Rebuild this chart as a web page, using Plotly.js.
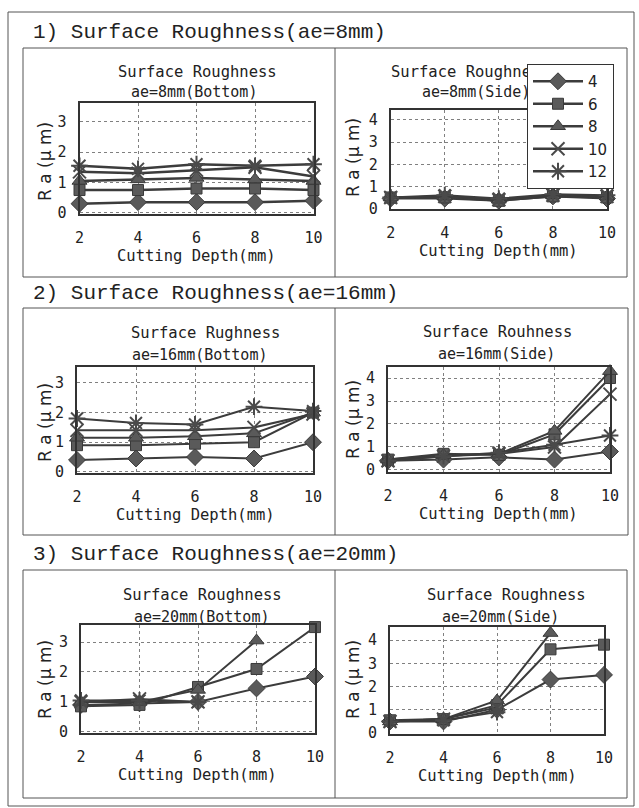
<!DOCTYPE html>
<html>
<head>
<meta charset="utf-8">
<script src="https://cdn.plot.ly/plotly-3.0.1.min.js"></script>
<style>html,body{margin:0;padding:0;background:#fff;}#chart{width:639px;height:808px;}</style>
</head>
<body>
<div id="chart"></div>
<script>
// ---------- data ----------
const depth = [2, 4, 6, 8, 10];                 // Cutting Depth (mm)
const seriesNames = ['4', '6', '8', '10', '12'];  // legend labels

// 1) ae = 8 mm, Bottom
const ae8Bottom_4  = [0.3, 0.35, 0.35, 0.35, 0.4];
const ae8Bottom_6  = [0.75, 0.75, 0.8, 0.8, 0.75];
const ae8Bottom_8  = [1.05, 1.1, 1.15, 1.1, 1.05];
const ae8Bottom_10 = [1.35, 1.3, 1.4, 1.5, 1.2];
const ae8Bottom_12 = [1.55, 1.45, 1.6, 1.55, 1.6];
// 1) ae = 8 mm, Side
const ae8Side_4  = [0.45, 0.45, 0.35, 0.55, 0.45];
const ae8Side_6  = [0.5, 0.5, 0.35, 0.55, 0.5];
const ae8Side_8  = [0.5, 0.55, 0.4, 0.6, 0.55];
const ae8Side_10 = [0.5, 0.55, 0.4, 0.6, 0.55];
const ae8Side_12 = [0.5, 0.6, 0.45, 0.65, 0.6];
// 2) ae = 16 mm, Bottom
const ae16Bottom_4  = [0.4, 0.45, 0.5, 0.45, 1.0];
const ae16Bottom_6  = [0.9, 0.9, 0.95, 1.0, 2.0];
const ae16Bottom_8  = [1.15, 1.15, 1.2, 1.3, 2.0];
const ae16Bottom_10 = [1.4, 1.4, 1.4, 1.5, 1.95];
const ae16Bottom_12 = [1.8, 1.65, 1.6, 2.2, 2.05];
// 2) ae = 16 mm, Side
const ae16Side_4  = [0.4, 0.45, 0.55, 0.45, 0.8];
const ae16Side_6  = [0.45, 0.7, 0.65, 1.55, 4.0];
const ae16Side_8  = [0.45, 0.65, 0.7, 1.7, 4.3];
const ae16Side_10 = [0.4, 0.6, 0.7, 1.0, 3.3];
const ae16Side_12 = [0.4, 0.6, 0.75, 1.1, 1.5];
// 3) ae = 20 mm, Bottom
const ae20Bottom_4  = [0.9, 0.95, 1.0, 1.45, 1.85];
const ae20Bottom_6  = [0.85, 0.9, 1.5, 2.1, 3.5];
const ae20Bottom_8  = [1.0, 1.0, 1.4, 3.05, null];
const ae20Bottom_10 = [1.0, 1.1, 1.0, null, null];
const ae20Bottom_12 = [1.05, 1.05, 1.0, null, null];
// 3) ae = 20 mm, Side
const ae20Side_4  = [0.5, 0.5, 1.0, 2.3, 2.5];
const ae20Side_6  = [0.55, 0.6, 1.2, 3.6, 3.8];
const ae20Side_8  = [0.5, 0.6, 1.4, 4.3, null];
const ae20Side_10 = [0.5, 0.6, 1.1, null, null];
const ae20Side_12 = [0.5, 0.55, 0.9, null, null];

const xTickVals = [2, 4, 6, 8, 10];
const sectionTitles = ['1) Surface Roughness(ae=8mm)', '2) Surface Roughness(ae=16mm)', '3) Surface Roughness(ae=20mm)'];
const panelTitles = [
  ['Surface Roughness', 'ae=8mm(Bottom)'],
  ['Surface Roughness', 'ae=8mm(Side)'],
  ['Surface Rughness', 'ae=16mm(Bottom)'],
  ['Surface Rouhness', 'ae=16mm(Side)'],
  ['Surface Roughness', 'ae=20mm(Bottom)'],
  ['Surface Roughness', 'ae=20mm(Side)']
];
const xTitle = 'Cutting Depth(mm)';
const yTitle = 'R a (μ m)';

const panelData = [
  [ae8Bottom_4, ae8Bottom_6, ae8Bottom_8, ae8Bottom_10, ae8Bottom_12],
  [ae8Side_4, ae8Side_6, ae8Side_8, ae8Side_10, ae8Side_12],
  [ae16Bottom_4, ae16Bottom_6, ae16Bottom_8, ae16Bottom_10, ae16Bottom_12],
  [ae16Side_4, ae16Side_6, ae16Side_8, ae16Side_10, ae16Side_12],
  [ae20Bottom_4, ae20Bottom_6, ae20Bottom_8, ae20Bottom_10, ae20Bottom_12],
  [ae20Side_4, ae20Side_6, ae20Side_8, ae20Side_10, ae20Side_12]
];

// ---------- layout geometry (pixels) ----------
const W = 639, H = 808;
const px = v => v / W;
const py = v => 1 - v / H;

const panels = [
  {x0: 79.5, x1: 313.5, y0: 103, y1: 214, yr: [-0.04, 3.62], yt: [0,1,2,3],   t1: [197, 72], t2: [194, 92], yl: [45, 162]},
  {x0: 390.7, x1: 607, y0: 110, y1: 209, yr: [-0.02, 4.45], yt: [0,1,2,3,4], t1: [470, 72], t2: [476, 92], yl: [353, 158]},
  {x0: 77, x1: 313, y0: 367, y1: 473, yr: [-0.04, 3.54], yt: [0,1,2,3],   t1: [205, 333], t2: [199, 355], yl: [45, 423]},
  {x0: 388, x1: 610, y0: 367, y1: 472, yr: [-0.09, 4.48], yt: [0,1,2,3,4], t1: [497, 332], t2: [496, 354], yl: [353, 420]},
  {x0: 81, x1: 315, y0: 625, y1: 733, yr: [-0.04, 3.57], yt: [0,1,2,3],   t1: [202, 595], t2: [201, 617], yl: [45, 680]},
  {x0: 390, x1: 604, y0: 627, y1: 734, yr: [-0.04, 4.56], yt: [0,1,2,3,4], t1: [506, 595], t2: [500, 617], yl: [353, 680]}
];

const symbols = ['diamond', 'square', 'triangle-up', 'x-thin-open', 'asterisk-open'];
const sizes = [13, 11, 13, 13, 14];

const traces = [];
panelData.forEach((set, p) => {
  const sfx = p === 0 ? '' : String(p + 1);
  set.forEach((vals, s) => {
    const open = symbols[s].indexOf('open') >= 0;
    traces.push({
      type: 'scatter', mode: 'lines+markers',
      x: depth, y: vals,
      xaxis: 'x' + sfx, yaxis: 'y' + sfx,
      name: seriesNames[s], legendgroup: seriesNames[s],
      showlegend: p === 0,
      cliponaxis: false,
      connectgaps: false,
      line: {color: '#3c3c3c', width: p === 0 ? 2.5 : 2},
      marker: {
        symbol: symbols[s], size: sizes[s],
        color: open ? '#4a4a4a' : '#5a5a5a',
        line: {color: open ? '#4a4a4a' : '#3a3a3a', width: open ? 2 : 1}
      }
    });
  });
});

const layout = {
  width: W, height: H,
  margin: {l: 0, r: 0, t: 0, b: 0},
  paper_bgcolor: '#fff', plot_bgcolor: '#fff',
  showlegend: true,
  legend: {
    x: px(527), y: py(64), xanchor: 'left', yanchor: 'top',
    bgcolor: '#fff', bordercolor: '#333', borderwidth: 1,
    font: {family: 'DejaVu Sans', size: 15, color: '#222'},
    tracegroupgap: 0, itemsizing: 'trace', itemwidth: 50
  },
  annotations: [], shapes: []
};

const fontMono = 'DejaVu Sans Mono';
panels.forEach((g, p) => {
  const sfx = p === 0 ? '' : String(p + 1);
  layout['xaxis' + sfx] = {
    domain: [px(g.x0), px(g.x1)], anchor: 'y' + sfx,
    range: [2, 10], tickvals: xTickVals, ticks: '',
    showgrid: true, gridcolor: '#808080', griddash: 'dot', gridwidth: 1,
    showline: true, mirror: true, linecolor: '#333', linewidth: 2,
    zeroline: false, ticklabelstandoff: 9,
    tickfont: {family: fontMono, size: 15, color: '#222'}
  };
  layout['yaxis' + sfx] = {
    domain: [py(g.y1), py(g.y0)], anchor: 'x' + sfx,
    range: g.yr, tickvals: g.yt, ticks: '',
    showgrid: true, gridcolor: '#808080', griddash: 'dot', gridwidth: 1,
    showline: true, mirror: true, linecolor: '#333', linewidth: 2,
    zeroline: false, ticklabelstandoff: 8,
    tickfont: {family: fontMono, size: 15, color: '#222'}
  };
  const xc = (g.x0 + g.x1) / 2;
  layout.annotations.push(
    {text: panelTitles[p][0], x: px(g.t1[0]), y: py(g.t1[1]), xref: 'paper', yref: 'paper', xanchor: 'center', yanchor: 'middle', showarrow: false, font: {family: fontMono, size: 15.5, color: '#222'}},
    {text: panelTitles[p][1], x: px(g.t2[0]), y: py(g.t2[1]), xref: 'paper', yref: 'paper', xanchor: 'center', yanchor: 'middle', showarrow: false, font: {family: fontMono, size: 15, color: '#222'}},
    {text: xTitle, x: px(xc), y: py(g.y1 + 42), xref: 'paper', yref: 'paper', xanchor: 'center', yanchor: 'middle', showarrow: false, font: {family: fontMono, size: 15.5, color: '#222'}},
    {text: yTitle, x: px(g.yl[0]), y: py(g.yl[1]), xref: 'paper', yref: 'paper', xanchor: 'center', yanchor: 'middle', textangle: -90, showarrow: false, font: {family: 'DejaVu Sans', size: 17, color: '#222'}}
  );
});

// section headings
const headY = [32, 293, 554];
headY.forEach((y, i) => {
  layout.annotations.push({text: sectionTitles[i], x: px(31), y: py(y), xref: 'paper', yref: 'paper', xanchor: 'left', yanchor: 'middle', showarrow: false, font: {family: 'Liberation Mono', size: 21, color: '#222'}});
});

// frames
const boxes = [[23, 48, 627, 277], [23, 308, 628, 535], [23, 570, 627, 798]];
const line = {color: '#555', width: 1};
layout.shapes.push({type: 'rect', xref: 'paper', yref: 'paper', x0: px(8), x1: px(634), y0: py(12), y1: py(806), line: line, layer: 'below'});
boxes.forEach(b => {
  layout.shapes.push({type: 'rect', xref: 'paper', yref: 'paper', x0: px(b[0]), x1: px(b[2]), y0: py(b[1]), y1: py(b[3]), line: line, layer: 'below'});
  layout.shapes.push({type: 'line', xref: 'paper', yref: 'paper', x0: px(335), x1: px(335), y0: py(b[1]), y1: py(b[3]), line: line, layer: 'below'});
});

Plotly.newPlot('chart', traces, layout, {staticPlot: true, displayModeBar: false}).then(gd => {
  // as in the reference, the legend box sits on top of the panel title
  const leg = gd.querySelector('g.legend');
  if (leg && leg.parentNode) leg.parentNode.appendChild(leg);
});
</script>
</body>
</html>
